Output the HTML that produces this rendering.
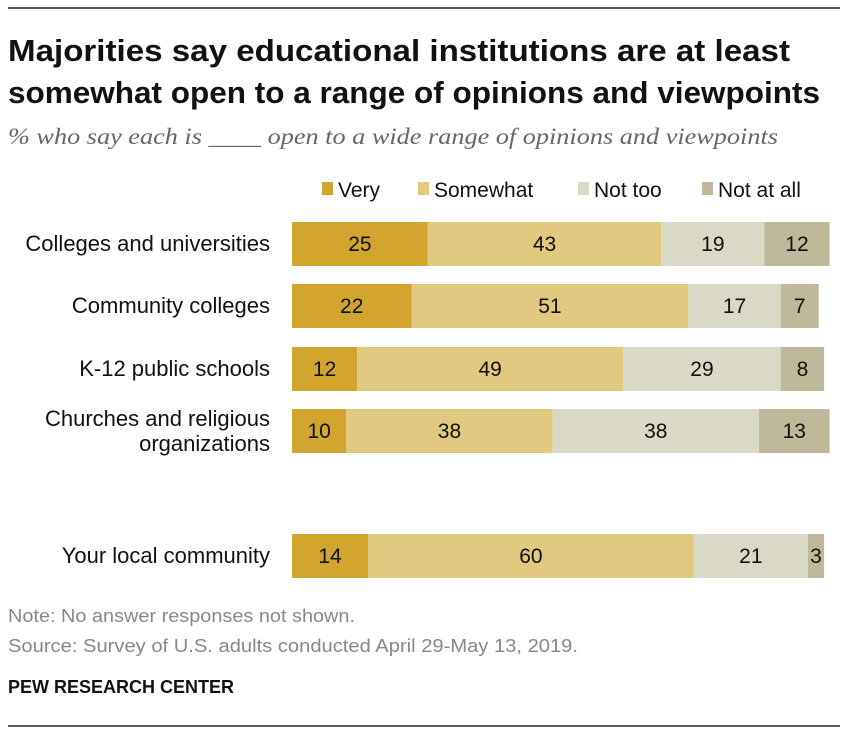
<!DOCTYPE html>
<html><head><meta charset="utf-8"><style>
body{margin:0;background:#fff;font-family:"Liberation Sans",Arial,sans-serif;}
svg text{font-family:"Liberation Sans",Arial,sans-serif;}
</style></head><body>
<svg width="848" height="734" xmlns="http://www.w3.org/2000/svg">
<line x1="8" y1="8" x2="840" y2="8" stroke="#222" stroke-width="1.5"/>
<text x="8" y="61" font-size="31" font-weight="bold" fill="#111" textLength="782" lengthAdjust="spacingAndGlyphs">Majorities say educational institutions are at least</text>
<text x="8" y="103" font-size="31" font-weight="bold" fill="#111" textLength="812" lengthAdjust="spacingAndGlyphs">somewhat open to a range of opinions and viewpoints</text>
<text x="8" y="144" font-size="23" font-style="italic" fill="#666" textLength="770" lengthAdjust="spacingAndGlyphs" style="font-family:'Liberation Serif',serif">% who say each is ____ open to a wide range of opinions and viewpoints</text>
<g id="legend"></g>
<g id="bars"></g>
<text x="8" y="622" font-size="18" fill="#888" textLength="347" lengthAdjust="spacingAndGlyphs">Note: No answer responses not shown.</text>
<text x="8" y="652" font-size="18" fill="#888" textLength="570" lengthAdjust="spacingAndGlyphs">Source: Survey of U.S. adults conducted April 29-May 13, 2019.</text>
<text x="8" y="693" font-size="18" font-weight="bold" fill="#111" textLength="226" lengthAdjust="spacingAndGlyphs">PEW RESEARCH CENTER</text>
<line x1="8" y1="726" x2="840" y2="726" stroke="#222" stroke-width="1.5"/>
</svg>
<script>
const categories=[["Colleges and universities"],["Community colleges"],["K-12 public schools"],["Churches and religious","organizations"],["Your local community"]];
const series=["Very","Somewhat","Not too","Not at all"];
const very=[25,22,12,10,14];
const somewhat=[43,51,49,38,60];
const notToo=[19,17,29,38,21];
const notAtAll=[12,7,8,13,3];
const colors=["#D1A52E","#E1C97F","#DAD8C7","#C0B89A"];
const rowY=[222,284,347,409,534];
const x0=292, unit=5.43, barH=44;
const xs=v=>v*unit;
const NS="http://www.w3.org/2000/svg";
const bars=document.getElementById('bars'), legend=document.getElementById('legend');
const legX=[322,418,578,702];
series.forEach((s,i)=>{
 const r=document.createElementNS(NS,'rect');
 r.setAttribute('x',legX[i]);r.setAttribute('y',182);r.setAttribute('width',11);r.setAttribute('height',13);r.setAttribute('fill',colors[i]);
 
 
 legend.appendChild(r);
 const t=document.createElementNS(NS,'text');
 t.setAttribute('x',legX[i]+16);t.setAttribute('y',197);t.setAttribute('font-size','21');t.setAttribute('fill','#111');t.textContent=s;
 
 
 legend.appendChild(t);
});
const data=[very,somewhat,notToo,notAtAll];
categories.forEach((c,ri)=>{
 const y=rowY[ri];
 const lt=document.createElementNS(NS,'text');
 lt.setAttribute('text-anchor','end');lt.setAttribute('font-size','22');lt.setAttribute('fill','#111');
 
 
 c.forEach((line,li)=>{
  const ts=document.createElementNS(NS,'tspan');
  ts.setAttribute('x',270);
  ts.setAttribute('y', c.length===1? y+barH/2+7 : y+barH/2-5+li*25);
  ts.textContent=line;lt.appendChild(ts);
 });
 bars.appendChild(lt);
 let acc=0;
 data.forEach((arr,si)=>{
  const v=arr[ri];
  const r=document.createElementNS(NS,'rect');
  r.setAttribute('x',x0+xs(acc));r.setAttribute('y',y);r.setAttribute('width',xs(v));r.setAttribute('height',barH);r.setAttribute('fill',colors[si]);
  
  
  bars.appendChild(r);
  const t=document.createElementNS(NS,'text');
  t.setAttribute('x',x0+xs(acc+v/2));t.setAttribute('y',y+barH/2+7);t.setAttribute('text-anchor','middle');t.setAttribute('font-size','21');t.setAttribute('fill','#111');
  t.textContent=v;
  
  
  bars.appendChild(t);
  acc+=v;
 });
});
</script>
</body></html>
